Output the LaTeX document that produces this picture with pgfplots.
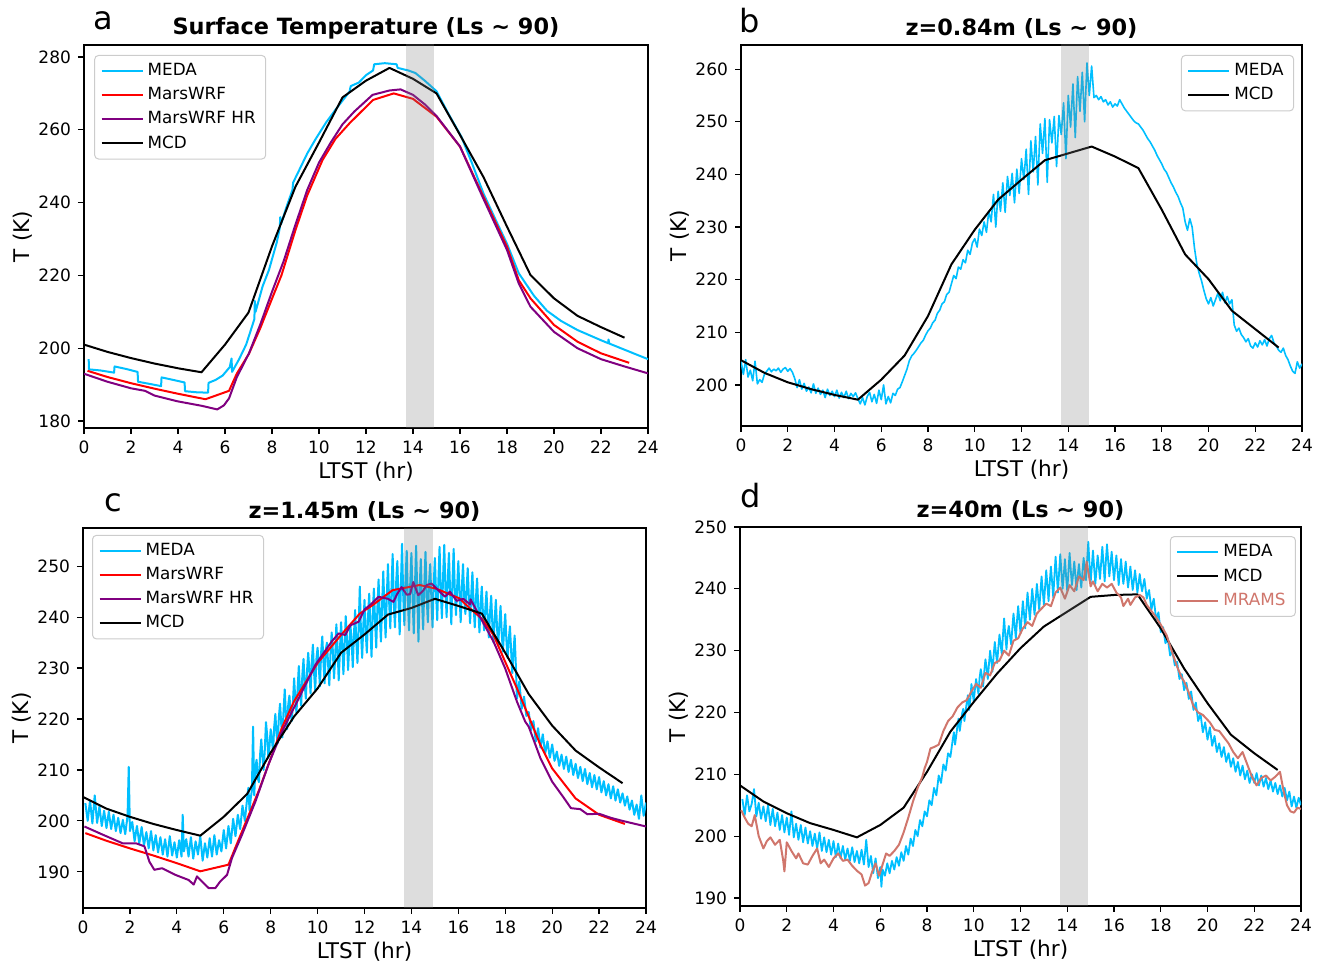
\documentclass[border=0pt]{standalone}
\usepackage{fontspec}
\setmainfont{DejaVu Sans}
\usepackage{pgfplots}
\pgfplotsset{compat=1.18}
\definecolor{meda}{RGB}{0,191,255}
\definecolor{wrf}{RGB}{255,0,0}
\definecolor{wrfhr}{RGB}{128,0,128}
\definecolor{mrams}{RGB}{208,118,108}
\pgfplotsset{
  panel/.style={
    scale only axis, xmin=0, xmax=24, xtick={0,2,...,24},
    tick align=outside, tick pos=left, major tick length=3pt,
    every tick/.style={black, line width=0.6pt},
    axis line style={line width=0.8pt},
    tick label style={font=\fontsize{8.5}{10}\selectfont},
    label style={font=\fontsize{10.8}{13}\selectfont},
    title style={font=\bfseries\fontsize{11.2}{13}\selectfont, yshift=-6.5pt},
    xlabel={LTST (hr)}, ylabel={T (K)},
    xlabel shift=-3pt, ylabel shift=-4pt,
    /pgf/number format/assume math mode=true,
    legend cell align=left,
    legend style={draw=black!20, rounded corners=2pt, line width=0.5pt, font=\fontsize{8.4}{10}\selectfont, row sep=0.4pt, inner xsep=3pt, inner ysep=2pt},
    legend image code/.code={\draw[##1] (0pt,0pt) -- (18pt,0pt); \path (18pt,0pt) -- (20.5pt,0pt);},
    every axis plot/.append style={line join=round},
  },
  band/.style={draw=none, fill=gray, fill opacity=0.27, forget plot},
}
\begin{document}
\begin{tikzpicture}
\useasboundingbox (0,0) rectangle (663pt,480.5pt);
% ---------------- panel a
\begin{axis}[panel, name=A, at={(42pt,266.5pt)}, anchor=south west, width=282pt, height=191.5pt,
  ymin=178.1, ymax=283.3, ytick={180,200,...,280},
  title={Surface Temperature (Ls \textasciitilde{} 90)},
  legend style={at={(0.018,0.974)}, anchor=north west}]
\addplot[meda, line width=1pt] coordinates {(0.2,197) (0.21,194.2) (0.7,193.9) (1.28,193.3) (1.3,195) (1.8,194.3) (2.28,193.5) (2.3,190.8) (2.8,190.2) (3.28,189.6) (3.3,192) (3.8,191.3) (4.28,190.6) (4.3,188.2) (4.8,187.9) (5.28,187.8) (5.3,190.5) (5.6,191.3) (5.9,192.5) (6.2,194.8) (6.28,197.2) (6.3,193.5) (6.6,197) (6.9,201) (7.1,205) (7.25,208) (7.27,213) (7.3,210) (7.6,217) (7.87,221.5) (8.2,229) (8.33,233) (8.35,236) (8.38,234) (8.6,238.5) (8.87,243.5) (8.9,245.5) (9.2,249.5) (9.5,253.5) (9.86,257.5) (10.3,262) (10.7,265.5) (11.0,268) (11.3,270.5) (11.35,272) (11.7,273) (12.0,275) (12.3,276.3) (12.35,278) (12.8,278.3) (13.3,278) (13.35,277) (13.8,276.3) (14.1,275.6) (14.5,273.5) (15,270.6) (15.5,264.5) (16.06,258.1) (16.5,251) (17,242.5) (17.5,235.5) (18,228.7) (18.5,220.6) (19.15,214.4) (19.7,210.3) (20.3,207.5) (21,205) (21.5,203.6) (22.0,202.2) (22.3,201.4) (22.32,202.4) (22.35,201.3) (23,199.6) (23.5,198.3) (24,197)};
\addlegendentry{MEDA}
\addplot[wrf, line width=1pt] coordinates {(0.15,193.8) (1,192.1) (2,190.4) (3,188.9) (4,187.5) (5.17,186) (6.17,188.3) (6.5,193) (7.02,198.5) (7.5,205.5) (7.9,212) (8.4,220) (9,232.5) (9.5,242) (10.15,251.7) (10.7,257.5) (11.3,261.8) (12.3,268.2) (13.18,270) (14,268.5) (15,263.6) (16,255.4) (17,241.6) (18,227.9) (18.5,218.7) (19,213.7) (20,206.4) (21,201.8) (22,198.6) (23.2,196)};
\addlegendentry{MarsWRF}
\addplot[wrfhr, line width=1pt] coordinates {(0,193) (1,190.8) (2,189) (2.6,188.3) (3,187) (4,185.4) (5,184.2) (5.67,183.2) (5.95,184.3) (6.17,186.2) (6.5,192) (7.02,198.6) (7.5,206.5) (8,215.5) (8.5,224) (9,234) (9.5,243.5) (10,251) (10.5,256.5) (11,261.5) (11.5,265) (12.28,269.6) (13.0,270.8) (13.47,271.1) (14,269.6) (14.5,267) (15,263.8) (16,255.4) (17,241) (18,227) (18.5,217.8) (19,211.4) (20,204.5) (21,200) (22,197) (23,195) (24,193.1)};
\addlegendentry{MarsWRF HR}
\addplot[black, line width=1pt] coordinates {(0,201) (1,199) (2,197.3) (3,195.8) (4,194.5) (5,193.4) (6,201) (7,209.8) (8,228) (9,244.4) (10,256.5) (11,268.9) (12,273.5) (13,277) (14,274) (15,270) (16,258.6) (17,247) (18,233.4) (19,220.1) (20,213.7) (21,208.9) (22,205.8) (23,202.9)};
\addlegendentry{MCD}
\addplot[band] coordinates {(13.7,100) (14.9,100) (14.9,300) (13.7,300)} -- cycle;
\end{axis}
\node[anchor=base west, inner sep=0pt, font=\fontsize{16}{18}\selectfont] at ([xshift=4.5pt,yshift=7.5pt]A.north west) {a};
% ---------------- panel b
\begin{axis}[panel, name=B, at={(370.5pt,267.5pt)}, anchor=south west, width=280.5pt, height=190.5pt,
  ymin=192.2, ymax=264.6, ytick={200,210,...,260},
  title={z=0.84m (Ls \textasciitilde{} 90)},
  legend style={at={(0.986,0.974)}, anchor=north east}]
\addplot[meda, line width=0.8pt] coordinates {(0,204.5) (0.1,202.0) (0.2,204.8) (0.3,201.5) (0.4,202.8) (0.5,200.8) (0.6,204.5) (0.7,200.2) (0.8,201.0) (0.9,200.5) (1.0,202.0) (1.1,202.6) (1.2,203.2) (1.3,202.5) (1.4,203.0) (1.5,202.7) (1.6,203.2) (1.7,202.4) (1.8,203.0) (1.9,203.3) (2.0,202.6) (2.1,203.1) (2.2,202.4) (2.3,201.2) (2.4,199.5) (2.5,201.0) (2.6,199.2) (2.7,200.3) (2.8,198.8) (2.9,199.6) (3.0,198.5) (3.1,200.2) (3.2,198.4) (3.3,199.4) (3.4,198.2) (3.5,199.0) (3.6,197.6) (3.7,199.2) (3.8,198.0) (3.9,198.8) (4.0,197.8) (4.1,199.0) (4.2,197.5) (4.3,198.6) (4.4,197.6) (4.5,198.8) (4.6,197.4) (4.7,198.4) (4.8,197.8) (4.9,198.5) (5.0,197.4) (5.1,196.4) (5.2,197.6) (5.3,196.2) (5.4,197.8) (5.5,198.6) (5.6,196.8) (5.7,198.2) (5.8,196.5) (5.9,199.0) (6.0,197.2) (6.1,200.0) (6.2,196.4) (6.3,197.8) (6.4,196.6) (6.5,198.4) (6.6,198.0) (6.7,199.2) (6.8,199.5) (6.9,200.6) (7.0,201.8) (7.1,203.0) (7.2,204.6) (7.3,205.5) (7.4,206.0) (7.5,206.6) (7.6,207.3) (7.7,208.0) (7.8,208.5) (7.9,209.5) (8.0,210.3) (8.1,210.8) (8.2,211.8) (8.3,212.3) (8.4,213.6) (8.5,214.2) (8.6,215.4) (8.7,215.8) (8.8,217.2) (8.9,217.6) (9.0,219.2) (9.1,220.8) (9.2,220.2) (9.3,222.4) (9.4,222.0) (9.5,223.8) (9.6,223.2) (9.7,225.6) (9.8,224.8) (9.9,227.0) (10.0,227.8) (10.1,226.2) (10.2,229.6) (10.3,228.4) (10.4,231.0) (10.5,229.0) (10.6,233.0) (10.7,231.0) (10.8,236.2) (10.9,230.0) (11.0,236.8) (11.1,233.0) (11.2,238.4) (11.3,232.8) (11.4,239.6) (11.5,236.0) (11.6,240.2) (11.7,234.6) (11.8,241.0) (11.9,236.4) (12.0,243.0) (12.1,239.0) (12.2,244.8) (12.3,236.2) (12.4,246.4) (12.5,240.5) (12.6,247.2) (12.7,238.0) (12.8,249.6) (12.9,244.0) (13.0,250.6) (13.1,238.5) (13.2,250.4) (13.3,246.0) (13.4,251.0) (13.5,241.5) (13.6,251.2) (13.7,247.6) (13.8,253.6) (13.9,243.0) (14.0,255.0) (14.1,249.0) (14.2,257.2) (14.3,247.0) (14.4,258.6) (14.5,252.0) (14.6,259.4) (14.7,250.0) (14.8,261.2) (14.9,255.0) (15.0,260.6) (15.1,254.6) (15.2,255.0) (15.3,254.2) (15.4,254.8) (15.5,253.8) (15.6,254.2) (15.7,253.2) (15.8,253.8) (15.9,252.8) (16.0,253.4) (16.1,253.0) (16.2,254.2) (16.3,253.4) (16.4,252.6) (16.5,252.0) (16.6,251.4) (16.7,250.8) (16.8,250.2) (16.9,249.8) (17.0,249.6) (17.1,249.0) (17.2,248.4) (17.3,247.6) (17.4,246.8) (17.5,246.2) (17.6,245.4) (17.7,244.6) (17.8,243.6) (17.9,242.8) (18.0,242.0) (18.1,241.0) (18.2,240.4) (18.3,239.4) (18.4,238.4) (18.5,237.6) (18.6,236.6) (18.7,235.8) (18.8,234.6) (18.9,233.6) (19.0,231.0) (19.1,229.4) (19.2,231.6) (19.3,230.0) (19.4,226.0) (19.5,223.0) (19.6,221.2) (19.7,219.8) (19.8,218.0) (19.9,216.4) (20.0,215.4) (20.1,216.6) (20.2,215.0) (20.3,216.2) (20.4,217.4) (20.5,216.0) (20.6,217.6) (20.7,215.6) (20.8,216.8) (20.9,215.4) (21.0,216.2) (21.1,211.4) (21.2,210.2) (21.3,210.8) (21.4,209.6) (21.5,209.0) (21.6,208.2) (21.7,208.8) (21.8,207.4) (21.9,207.0) (22.0,208.0) (22.1,207.2) (22.2,208.4) (22.3,207.6) (22.4,208.6) (22.5,207.4) (22.6,208.8) (22.7,209.4) (22.8,208.0) (22.9,207.4) (23.0,206.6) (23.1,206.2) (23.2,207.0) (23.3,205.6) (23.4,204.8) (23.5,203.6) (23.6,202.6) (23.7,202.2) (23.8,204.4) (23.9,203.2) (24.0,204.0)};
\addlegendentry{MEDA}
\addplot[black, line width=1pt] coordinates {(0,204.7) (1,202.3) (2,200.5) (3,199.2) (4,198.1) (5,197.2) (6,201) (7,205.6) (8,213.1) (9,222.9) (10,229.5) (11,235.2) (12,239) (13,242.7) (14,244) (15,245.3) (16,243.4) (17,241.2) (18,233.3) (19,224.8) (20,220.1) (21,214.1) (22,210.6) (23,207.1)};
\addlegendentry{MCD}
\addplot[band] coordinates {(13.7,100) (14.9,100) (14.9,300) (13.7,300)} -- cycle;
\end{axis}
\node[anchor=base west, inner sep=0pt, font=\fontsize{16}{18}\selectfont] at ([xshift=-1pt,yshift=6pt]B.north west) {b};
% ---------------- panel c
\begin{axis}[panel, name=C, at={(41.5pt,26.5pt)}, anchor=south west, width=281.5pt, height=190pt,
  ymin=182.9, ymax=257.5, ytick={190,200,...,250},
  title={z=1.45m (Ls \textasciitilde{} 90)},
  legend style={at={(0.016,0.982)}, anchor=north west}]
\addplot[meda, line width=1pt] coordinates {(0.1,203.5) (0.2,200.0) (0.3,204.0) (0.4,199.5) (0.5,205.0) (0.6,199.6) (0.7,202.8) (0.8,199.0) (0.9,202.0) (1.0,198.6) (1.1,201.8) (1.2,198.4) (1.3,201.2) (1.4,198.0) (1.5,200.6) (1.6,197.6) (1.7,200.2) (1.8,197.4) (1.9,201.0) (1.95,210.6) (2.0,198.0) (2.1,199.8) (2.2,196.0) (2.3,199.0) (2.4,195.6) (2.5,198.8) (2.6,195.2) (2.7,197.8) (2.8,194.6) (2.9,198.0) (3.0,194.2) (3.1,197.2) (3.2,193.8) (3.3,196.8) (3.4,193.4) (3.5,196.4) (3.6,193.0) (3.7,197.0) (3.8,193.2) (3.9,195.8) (4.0,192.8) (4.1,196.2) (4.2,193.0) (4.25,201.2) (4.3,194.0) (4.4,196.4) (4.5,193.0) (4.6,196.8) (4.7,192.6) (4.8,196.0) (4.9,193.4) (5.0,197.0) (5.1,192.2) (5.2,195.6) (5.3,192.8) (5.4,196.6) (5.5,193.0) (5.6,197.2) (5.7,193.4) (5.8,196.2) (5.9,194.0) (6.0,198.2) (6.1,194.6) (6.2,199.0) (6.3,195.6) (6.4,200.4) (6.5,197.0) (6.6,201.2) (6.7,198.4) (6.8,203.0) (6.9,200.0)
 (7.0,204.6) (7.05,206.5) (7.1,202.0) (7.15,204.4) (7.2,206.0) (7.25,218.5) (7.3,205.0) (7.35,210.5) (7.4,212.0) (7.45,208.4) (7.5,207.6) (7.55,213.0) (7.6,216.0) (7.65,212.6) (7.7,210.0) (7.75,214.0) (7.8,219.4) (7.85,216.8) (7.9,212.4) (7.95,214.6) (8.0,218.0) (8.05,216.2) (8.1,213.6) (8.15,218.4) (8.2,221.0) (8.25,217.0) (8.3,215.2) (8.35,220.4) (8.4,223.0) (8.45,219.0) (8.5,216.4) (8.55,221.6) (8.6,225.8) (8.65,220.6) (8.7,218.0) (8.75,222.8) (8.8,224.6) (8.85,221.2) (8.9,219.6) (8.95,223.4) (9.0,228.0) (9.05,223.8) (9.1,221.2) (9.15,226.0) (9.2,230.4) (9.25,225.4) (9.3,222.6) (9.35,228.6) (9.4,231.8) (9.45,226.8) (9.5,224.0) (9.55,229.4) (9.6,233.0) (9.65,229.6) (9.7,225.0) (9.75,231.0) (9.8,234.6) (9.85,229.0) (9.9,225.6) (9.95,231.8) (10.0,234.0) (10.05,230.4) (10.1,226.4) (10.15,233.0) (10.2,236.2) (10.25,231.2) (10.3,227.0) (10.35,233.6) (10.4,235.0) (10.45,230.6) (10.5,226.6) (10.55,232.8) (10.6,237.0) (10.65,233.4) (10.7,228.0) (10.75,232.0) (10.8,238.6) (10.85,234.2) (10.9,227.6) (10.95,233.0) (11.0,239.0) (11.05,235.0) (11.1,228.8) (11.15,234.0) (11.2,240.2) (11.25,236.0) (11.3,229.6) (11.35,234.6) (11.4,238.4) (11.45,235.4) (11.5,230.2) (11.55,236.6) (11.6,241.4) (11.65,235.2) (11.7,231.0) (11.75,238.0) (11.8,246.0) (11.85,237.0) (11.9,232.0) (11.95,238.4) (12.0,243.4) (12.05,237.2) (12.1,233.0) (12.15,240.0) (12.2,244.6) (12.25,238.4) (12.3,232.2) (12.35,240.6) (12.4,245.6) (12.45,239.2) (12.5,234.0) (12.55,241.8) (12.6,247.4) (12.65,240.4) (12.7,235.2) (12.75,242.4) (12.8,249.0) (12.85,241.6) (12.9,236.0) (12.95,244.0) (13.0,250.4) (13.05,243.0) (13.1,237.8) (13.15,245.6) (13.2,252.4) (13.25,242.4) (13.3,238.0) (13.35,246.8) (13.4,251.0) (13.45,243.0) (13.5,236.6) (13.55,246.0) (13.6,254.4) (13.65,244.4) (13.7,238.4) (13.75,247.4) (13.8,253.0) (13.85,243.2) (13.9,237.4) (13.95,246.6) (14.0,252.6) (14.05,243.8) (14.1,236.8) (14.15,246.0) (14.2,254.0) (14.25,244.6) (14.3,235.2) (14.35,245.4) (14.4,251.4) (14.45,243.4) (14.5,237.6) (14.55,246.2) (14.6,252.8) (14.65,244.0) (14.7,239.0) (14.75,246.6) (14.8,250.4) (14.85,243.8) (14.9,238.0) (14.95,246.4) (15.0,251.6) (15.05,244.6) (15.1,239.4) (15.15,247.2) (15.2,253.8) (15.25,245.0) (15.3,239.8) (15.35,248.0) (15.4,254.2) (15.45,245.6) (15.5,240.0) (15.55,247.4) (15.6,252.6) (15.65,244.8) (15.7,238.6) (15.75,246.8) (15.8,253.4) (15.85,245.2) (15.9,240.4) (15.95,246.0) (16.0,251.0) (16.05,244.6) (16.1,239.0) (16.15,245.8) (16.2,250.4) (16.25,244.0) (16.3,240.6) (16.35,245.4) (16.4,249.6) (16.45,243.6) (16.5,238.8) (16.55,244.4) (16.6,248.8) (16.65,242.6) (16.7,238.0) (16.75,243.6) (16.8,247.6) (16.85,241.8) (16.9,237.0) (16.95,242.4) (17.0,246.0) (17.05,240.6) (17.1,237.4) (17.15,241.6) (17.2,245.0) (17.25,239.8) (17.3,236.0) (17.35,240.8) (17.4,244.2) (17.45,238.6) (17.5,235.0) (17.55,239.6) (17.6,243.4) (17.65,237.8) (17.7,234.6) (17.75,238.6) (17.8,242.2) (17.85,236.8) (17.9,233.2) (17.95,237.4) (18.0,240.6) (18.05,235.4) (18.1,232.0) (18.15,235.6) (18.2,238.2) (18.25,233.4) (18.3,229.0) (18.35,233.0) (18.4,236.4) (18.45,230.6) (18.5,224.0)
 (18.6,227.4) (18.7,222.0) (18.8,224.4) (18.9,220.6) (19.0,221.4) (19.1,217.8) (19.2,219.6) (19.3,215.6) (19.4,218.2) (19.5,214.4) (19.6,217.0) (19.7,213.2) (19.8,215.6) (19.9,212.4) (20.0,215.0) (20.1,211.8) (20.2,213.6) (20.3,210.8) (20.4,213.0) (20.5,210.2) (20.6,212.6) (20.7,209.6) (20.8,212.0) (20.9,209.0) (21.0,211.2) (21.1,208.4) (21.2,210.6) (21.3,207.8) (21.4,210.2) (21.5,207.2) (21.6,209.4) (21.7,206.6) (21.8,209.0) (21.9,206.2) (22.0,208.6) (22.1,205.6) (22.2,207.8) (22.3,205.0) (22.4,207.2) (22.5,204.4) (22.6,206.8) (22.7,204.0) (22.8,206.2) (22.9,203.6) (23.0,205.4) (23.1,203.0) (23.2,204.8) (23.3,202.2) (23.4,204.0) (23.5,201.2) (23.6,203.2) (23.7,200.4) (23.8,205.0) (23.9,201.0) (24.0,203.6)};
\addlegendentry{MEDA}
\addplot[wrf, line width=1pt] coordinates {(0.1,197.6) (1,196.1) (2,194.6) (3,193.2) (4,191.7) (5.0,190.1) (6.2,191.4) (6.5,194.8) (7,200.4) (7.5,206) (7.9,211) (8.5,218.5) (9,223.5) (10,231) (11,236.5) (11.8,240.7) (12.3,242.2) (13.2,245.3) (14.35,246.3) (15.05,245.6) (16.04,243.7) (16.5,241.7) (17,239.7) (17.5,236.5) (18,231.2) (18.5,226) (19,220.5) (19.5,214.9) (20,210.3) (21,204.4) (22,201.2) (23.1,199.4)};
\addlegendentry{MarsWRF}
\addplot[wrfhr, line width=1pt] coordinates {(0.06,198.9) (0.84,197.3) (1.69,195.6) (2.26,195.6) (2.62,195) (2.83,192) (3.04,190.4) (3.37,190.7) (3.94,189.4) (4.5,188.4) (4.72,187.5) (4.86,189.1) (5.07,188.1) (5.36,186.8) (5.64,186.8) (5.85,188.1) (6.14,189.4) (6.35,192.7) (6.78,197.3) (7.35,203.8) (7.9,211) (8.48,217.5) (9.19,224) (9.9,230.6) (10.6,235.2) (10.9,236.8) (11.18,236.5) (11.4,238.4) (11.75,239.1) (12.0,241.5) (12.32,242.7) (12.6,244) (13.0,243.6) (13.23,243) (13.4,244.6) (13.58,245.9) (13.8,244.4) (13.94,244.5) (14.08,246.9) (14.29,244.3) (14.5,245.2) (14.65,246.3) (14.86,246.6) (15.07,245.6) (15.25,244.8) (15.43,244) (15.64,245) (15.93,243.2) (16.21,243.6) (16.5,242.5) (16.52,243.5) (17,239.4) (17.5,235.2) (18,229.9) (18.5,223.4) (18.85,219.5) (19,218.5) (19.5,212.3) (20,207.7) (20.5,204.5) (20.8,202.5) (21.2,202.3) (21.5,201.3) (22,201.4) (22.5,200.6) (23,200) (24,198.9)};
\addlegendentry{MarsWRF HR}
\addplot[black, line width=1pt] coordinates {(0,204.7) (1,202.4) (2,200.8) (3,199.4) (4,198.2) (5,197.1) (6,200.8) (7,205.3) (8,213.4) (9,220.5) (10,226) (11,233) (12,236.6) (13,240.5) (14,241.8) (15,243.6) (16,242.2) (17,240.7) (18,233) (19,224.9) (20,218.7) (21,213.8) (22,210.5) (23,207.4)};
\addlegendentry{MCD}
\addplot[band] coordinates {(13.7,100) (14.9,100) (14.9,300) (13.7,300)} -- cycle;
\end{axis}
\node[anchor=base west, inner sep=0pt, font=\fontsize{16}{18}\selectfont] at ([xshift=10.5pt,yshift=8.5pt]C.north west) {c};
% ---------------- panel d
\begin{axis}[panel, name=D, at={(370pt,27.5pt)}, anchor=south west, width=280.5pt, height=189.5pt,
  ymin=188.7, ymax=250, ytick={190,200,...,250},
  title={z=40m (Ls \textasciitilde{} 90)},
  legend style={at={(0.991,0.976)}, anchor=north east}]
\addplot[meda, line width=0.9pt] coordinates {(0.1,206.0) (0.2,203.4) (0.3,206.6) (0.4,204.0) (0.5,205.2) (0.6,207.6) (0.7,203.2) (0.8,205.4) (0.9,202.8) (1.0,204.8) (1.1,202.4) (1.2,205.0) (1.3,201.8) (1.4,204.4) (1.5,201.6) (1.6,203.8) (1.7,201.0) (1.8,203.4) (1.9,200.6) (2.0,203.0) (2.1,200.2) (2.2,204.0) (2.3,199.8) (2.4,202.0) (2.5,199.4) (2.6,201.8) (2.7,199.0) (2.8,201.4) (2.9,198.8) (3.0,200.8) (3.1,198.4) (3.2,200.4) (3.3,198.0) (3.4,200.6) (3.5,197.6) (3.6,199.8) (3.7,197.4) (3.8,199.4) (3.9,197.0) (4.0,199.2) (4.1,196.6) (4.2,198.8) (4.3,196.4) (4.4,198.4) (4.5,196.2) (4.6,198.0) (4.7,196.0) (4.8,198.2) (4.9,195.8) (5.0,197.6) (5.1,195.6) (5.2,197.8) (5.3,195.4) (5.4,199.4) (5.5,195.0) (5.6,196.8) (5.7,194.0) (5.8,196.4) (5.9,193.2) (6.0,195.0) (6.05,191.8) (6.1,194.6) (6.2,193.6) (6.3,195.6) (6.4,194.0) (6.5,196.0) (6.6,194.6) (6.7,196.6) (6.8,195.2) (6.9,197.4) (7.0,196.0) (7.1,198.4) (7.2,197.0) (7.3,199.6) (7.4,198.4) (7.5,201.0) (7.6,200.0) (7.7,202.6) (7.8,201.6) (7.9,204.0) (8.0,203.2) (8.1,205.8) (8.2,205.0) (8.3,207.8) (8.4,206.6) (8.5,209.8) (8.6,208.6) (8.7,211.6) (8.8,210.6) (8.9,213.4) (9.0,212.8)
 (9.05,214.2) (9.1,215.6) (9.15,216.8) (9.2,214.8) (9.25,216.2) (9.3,217.8) (9.35,219.0) (9.4,217.0) (9.45,218.4) (9.5,219.8) (9.55,220.6) (9.6,218.6) (9.65,220.2) (9.7,221.6) (9.75,222.8) (9.8,220.4) (9.85,222.0) (9.9,224.6) (9.95,223.2) (10.0,221.8) (10.05,223.8) (10.1,225.4) (10.15,224.2) (10.2,223.0) (10.25,225.6) (10.3,227.0) (10.35,225.8) (10.4,224.2) (10.45,226.6) (10.5,228.6) (10.55,227.2) (10.6,225.4) (10.65,227.8) (10.7,230.0) (10.75,228.4) (10.8,226.6) (10.85,229.2) (10.9,231.4) (10.95,229.6) (11.0,228.0) (11.05,230.4) (11.1,232.6) (11.15,231.0) (11.2,229.4) (11.25,232.6) (11.3,235.2) (11.35,232.4) (11.4,230.2) (11.45,232.8) (11.5,234.0) (11.55,232.4) (11.6,231.0) (11.65,233.6) (11.7,236.0) (11.75,234.0) (11.8,232.0) (11.85,234.8) (11.9,237.2) (11.95,235.0) (12.0,232.8) (12.05,235.4) (12.1,238.0) (12.15,236.0) (12.2,233.6) (12.25,236.6) (12.3,239.4) (12.35,237.2) (12.4,235.0) (12.45,237.4) (12.5,240.0) (12.55,238.0) (12.6,235.8) (12.65,238.2) (12.7,240.8) (12.75,238.8) (12.8,236.6) (12.85,239.2) (12.9,242.0) (12.95,239.8) (13.0,237.4) (13.05,240.2) (13.1,243.0) (13.15,240.6) (13.2,238.0) (13.25,241.0) (13.3,243.6) (13.35,241.2) (13.4,238.6) (13.45,242.0) (13.5,245.2) (13.55,242.4) (13.6,239.4) (13.65,242.6) (13.7,245.6) (13.75,242.8) (13.8,240.0) (13.85,242.2) (13.9,244.8) (13.95,242.0) (14.0,239.6) (14.05,242.8) (14.1,245.8) (14.15,243.0) (14.2,240.6) (14.25,242.4) (14.3,244.4) (14.35,242.0) (14.4,239.8) (14.45,242.2) (14.5,244.0) (14.55,242.0) (14.6,240.2) (14.65,242.8) (14.7,245.0) (14.75,243.0) (14.8,241.4) (14.85,244.6) (14.9,247.6) (14.95,244.0) (15.0,241.0) (15.05,243.6) (15.1,246.2) (15.15,243.4) (15.2,240.8) (15.25,243.0) (15.3,245.4) (15.35,243.6) (15.4,241.6) (15.45,244.2) (15.5,246.8) (15.55,244.0) (15.6,241.2) (15.65,244.4) (15.7,247.2) (15.75,244.6) (15.8,242.0) (15.85,244.0) (15.9,246.0) (15.95,243.6) (16.0,241.4) (16.05,243.4) (16.1,245.4) (16.15,243.0) (16.2,240.6) (16.25,242.8) (16.3,244.8) (16.35,242.6) (16.4,240.8) (16.45,242.4) (16.5,244.4) (16.55,242.2) (16.6,240.2) (16.65,241.8) (16.7,243.6) (16.75,241.6) (16.8,239.8) (16.85,241.4) (16.9,243.0) (16.95,241.2) (17.0,239.4) (17.05,240.8) (17.1,242.4) (17.15,240.8) (17.2,239.6) (17.25,240.6) (17.3,241.6) (17.35,240.0) (17.4,238.4) (17.45,239.2) (17.5,239.8) (17.55,238.2) (17.6,236.6) (17.65,237.6) (17.7,238.4) (17.75,236.8) (17.8,235.0) (17.85,235.6) (17.9,236.2) (17.95,234.6)
 (18.0,233.0) (18.1,233.8) (18.2,231.2) (18.3,232.0) (18.4,229.2) (18.5,230.0) (18.6,227.6) (18.7,228.2) (18.8,225.4) (18.9,226.2) (19.0,223.6) (19.1,224.8) (19.2,222.2) (19.3,223.4) (19.4,220.4) (19.5,221.6) (19.6,218.6) (19.7,219.8) (19.8,216.8) (19.9,218.4) (20.0,215.6) (20.1,217.6) (20.2,214.6) (20.3,216.2) (20.4,213.6) (20.5,215.0) (20.6,212.8) (20.7,214.4) (20.8,212.0) (20.9,213.4) (21.0,211.2) (21.1,212.6) (21.2,210.4) (21.3,212.0) (21.4,209.8) (21.5,211.4) (21.6,209.2) (21.7,210.6) (21.8,208.6) (21.9,210.0) (22.0,208.6) (22.1,210.2) (22.2,208.2) (22.3,209.8) (22.4,208.0) (22.5,209.4) (22.6,207.6) (22.7,209.0) (22.8,207.2) (22.9,208.6) (23.0,206.8) (23.1,208.2) (23.2,206.4) (23.3,207.8) (23.4,205.8) (23.5,207.2) (23.6,204.8) (23.7,206.4) (23.8,204.6) (23.9,206.2) (24.0,205.0)};
\addlegendentry{MEDA}
\addplot[black, line width=1pt] coordinates {(0,208.2) (1,205.6) (2,203.7) (3,202.1) (4,201) (5,199.8) (6,201.8) (7,204.6) (8,210.4) (9,216.9) (10,221.7) (11,226.3) (12,230.4) (13,233.9) (14,236.3) (15,238.7) (16,239) (17,239.1) (18,233.6) (19,227.1) (20,221.5) (21,216.4) (22,213.4) (23,210.7)};
\addlegendentry{MCD}
\addplot[mrams, line width=1pt] coordinates {(0.05,204.2) (0.2,203.0) (0.35,202.0) (0.5,201.6) (0.63,203.4) (0.8,200.0) (1.0,198.0) (1.15,199.2) (1.3,199.8) (1.5,198.6) (1.7,199.4) (1.85,196.0) (1.9,194.3) (2.0,199.0) (2.2,197.6) (2.4,196.4) (2.5,197.2) (2.7,195.6) (2.9,195.4) (3.1,196.8) (3.3,198.0) (3.45,195.6) (3.6,196.2) (3.8,195.0) (4.0,196.4) (4.2,197.2) (4.4,196.0) (4.6,196.2) (4.8,195.2) (5.0,194.4) (5.2,193.8) (5.35,192.0) (5.5,192.4) (5.65,194.2) (5.8,195.6) (5.95,193.6) (6.1,195.4) (6.25,197.2) (6.4,196.8) (6.6,197.6) (6.8,198.6) (7.0,200.6) (7.2,203.0) (7.4,205.6) (7.6,207.8) (7.8,209.6) (7.9,211.0) (8.0,212.0) (8.15,214.2) (8.3,214.4) (8.5,214.8) (8.7,217.0) (8.9,218.6) (9.1,219.4) (9.3,220.8) (9.5,221.6) (9.7,222.0) (9.9,223.4) (10.1,224.6) (10.3,224.0) (10.5,226.4) (10.7,226.0) (10.9,228.0) (11.1,228.4) (11.3,230.0) (11.5,229.2) (11.7,231.6) (11.9,232.0) (12.1,233.6) (12.3,234.6) (12.5,234.0) (12.7,236.0) (12.9,236.8) (13.1,237.6) (13.3,237.2) (13.5,239.4) (13.7,240.2) (13.9,238.4) (14.1,240.6) (14.3,239.6) (14.5,242.0) (14.7,241.4) (14.83,244.4) (15.0,240.4) (15.1,241.2) (15.3,239.6) (15.5,240.8) (15.7,240.2) (15.9,240.8) (16.1,239.4) (16.3,238.6) (16.4,237.2) (16.6,238.4) (16.7,237.4) (16.9,238.6) (17.1,239.0) (17.26,238.6) (17.4,237.4) (17.6,236.4) (17.8,235.4) (18.0,234.2) (18.25,232.5) (18.5,229.6) (18.7,227.4) (18.9,225.6) (19.0,225.0) (19.2,223.2) (19.4,221.0) (19.6,220.0) (19.8,219.6) (20.0,218.8) (20.1,218.4) (20.3,217.2) (20.5,217.0) (20.7,216.0) (20.9,215.0) (21.1,213.6) (21.3,212.6) (21.5,213.6) (21.7,211.6) (21.9,209.6) (22.1,208.2) (22.3,209.4) (22.5,209.8) (22.7,209.0) (22.9,209.6) (23.1,210.4) (23.25,207.4) (23.4,205.0) (23.55,204.0) (23.7,203.8) (23.85,204.6) (24.0,204.4)};
\addlegendentry{\textcolor{mrams}{MRAMS}}
\addplot[band] coordinates {(13.7,100) (14.9,100) (14.9,300) (13.7,300)} -- cycle;
\end{axis}
\node[anchor=base west, inner sep=0pt, font=\fontsize{16}{18}\selectfont] at ([xshift=0pt,yshift=9.5pt]D.north west) {d};
\end{tikzpicture}
\end{document}
